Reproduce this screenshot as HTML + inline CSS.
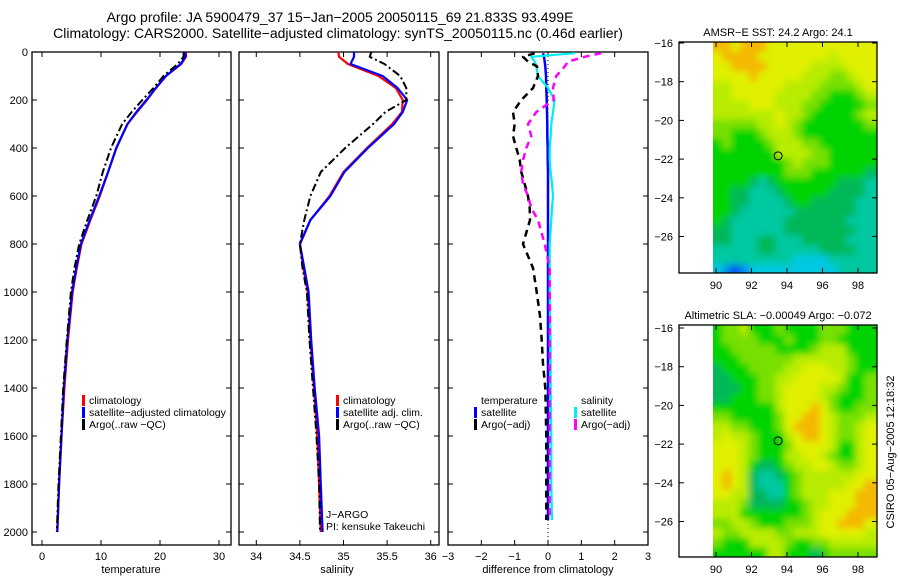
<!DOCTYPE html>
<html><head><meta charset="utf-8"><style>
body{margin:0;background:#fff;width:900px;height:580px;overflow:hidden}
svg text{font-family:"Liberation Sans",sans-serif;fill:#000}
</style></head><body>
<svg id="fig" width="900" height="580" xmlns="http://www.w3.org/2000/svg">
<defs>
<filter id="soft" x="0" y="0" width="1" height="1"><feGaussianBlur stdDeviation="3.5" edgeMode="duplicate"/></filter>
<clipPath id="clip1"><rect x="713" y="42" width="164" height="231"/></clipPath>
<clipPath id="clip2"><rect x="713" y="325" width="164" height="232"/></clipPath>
</defs>
<text x="340" y="22" font-size="14" text-anchor="middle">Argo profile: JA 5900479_37 15−Jan−2005 20050115_69 21.833S 93.499E</text>
<text x="338" y="38" font-size="14" text-anchor="middle">Climatology: CARS2000. Satellite−adjusted climatology: synTS_20050115.nc (0.46d earlier)</text>
<text transform="translate(894,452) rotate(-90)" font-size="11" text-anchor="middle">CSIRO 05−Aug−2005 12:18:32</text>
</svg>
<script>
// ---------- data ----------
const depths=[0,20,50,100,150,200,250,300,400,500,600,700,800,900,1000,1200,1400,1600,1800,2000];
const tempClim=[24.4,24.4,23.6,21.0,19.3,17.8,16.1,14.5,12.6,11.2,9.8,8.2,6.7,5.9,5.2,4.4,3.8,3.3,2.9,2.6];
const tempSat=[24.3,24.3,23.5,21.0,19.3,17.7,16.0,14.5,12.6,11.2,9.7,8.1,6.6,5.8,5.1,4.3,3.7,3.3,2.9,2.6];
const tempArgo=[24.0,24.0,23.0,20.6,18.9,17.0,15.2,13.6,11.7,10.3,9.2,7.7,6.3,5.5,4.9,4.2,3.6,3.2,2.8,2.5];
const salClim=[34.94,34.95,35.05,35.40,35.60,35.68,35.67,35.56,35.27,35.00,34.84,34.62,34.50,34.54,34.59,34.62,34.66,34.70,34.72,34.74];
const salSat=[35.12,35.12,35.08,35.45,35.62,35.73,35.68,35.58,35.28,35.01,34.85,34.62,34.50,34.55,34.60,34.63,34.67,34.72,34.74,34.76];
const salArgo=[35.32,35.30,35.47,35.65,35.72,35.72,35.48,35.34,35.02,34.74,34.62,34.55,34.50,34.53,34.58,34.61,34.65,34.69,34.72,34.73];
const diffDepths=[5,20,40,60,100,150,200,250,300,350,400,450,500,550,600,650,700,800,900,1000,1100,1200,1300,1400,1600,1800,1950];
const dTempSat=[-0.15,-0.12,-0.1,-0.08,-0.06,-0.05,-0.04,-0.03,-0.02,-0.02,-0.01,-0.01,0,0,0,0,0,0,0,0,0,0,0,0,0,0,0];
const dTempArgo=[-0.4,-0.75,-0.6,-0.33,-0.3,-0.45,-0.8,-1.05,-1.0,-1.05,-0.95,-0.85,-0.8,-0.7,-0.6,-0.55,-0.54,-0.75,-0.45,-0.34,-0.24,-0.19,-0.15,-0.08,-0.05,-0.05,-0.05];
const dSalSat=[0.8,-0.5,-0.4,-0.35,-0.3,0.0,0.2,0.15,0.1,0.08,0.05,0.05,0.08,0.12,0.15,0.12,0.1,0.05,0.05,0.05,0.06,0.08,0.08,0.08,0.1,0.1,0.12];
const dSalArgo=[1.6,1.1,0.6,0.5,0.25,0.15,0.17,-0.35,-0.6,-0.5,-0.65,-0.75,-0.8,-0.75,-0.6,-0.5,-0.3,-0.1,0.05,0.05,0.06,0.05,0.05,0.05,0.05,0.05,0.05];
const depthTicks=[0,200,400,600,800,1000,1200,1400,1600,1800,2000];
const tempTicks=[0,10,20,30];
const salTicks=[34,34.5,35,35.5,36];
const diffTicks=[-3,-2,-1,0,1,2,3];
const latTicks=[-16,-18,-20,-22,-24,-26];
const lonTicks=[90,92,94,96,98];
const sstGrid=[
"998999888888888888","899998888888878888","889999888887777888","888898888877766788",
"778888887777666678","778888877776655567","777788877766555556","777777787765555567",
"666667787655555556","665556777655555555","565555677766555555","555555577776655555",
"555555556766655555","555555556665555554","555543455555554443","554433345555544443",
"554433334554444433","554333333444444433","543333334444444333","443333334444444433",
"443334433344444333","333334433333444433","333333333222233333","210122222222223333"];
const slaGrid=[
"566755565555666555","566665556555665555","556666655556777555","555666666777777655",
"455566667788877655","445556677888887556","444556678888776556","445556678888765556",
"555555578889865566","665555568899876667","776655568999876678","787765557899876678",
"888765556888875578","888765557788765578","888754456778876678","898743345677777788",
"898743335677777889","887744335677788899","777644445567788899","777555555567888999",
"667765556667889998","766777766777888887","655577776556677777","555555775554566666"];
const palette=["#0050f0","#0090f0","#00c8e0","#00c8a0","#00b858","#00d400","#78e000","#b8ec00","#e0f000","#f4b800"];
const argoLon=93.499, argoLat=-21.833;

// ---------- helpers ----------
const svg=document.getElementById('fig');
const NS="http://www.w3.org/2000/svg";
function mk(tag,attrs,parent){const e=document.createElementNS(NS,tag);for(const k in attrs)e.setAttribute(k,attrs[k]);(parent||svg).appendChild(e);return e;}
function lin(d0,d1,r0,r1){return v=>r0+(v-d0)*(r1-r0)/(d1-d0);}
const yDepth=lin(0,2000,52,532);

function frame(x0,y0,x1,y1,name){
  const r=mk('rect',{x:x0,y:y0,width:x1-x0,height:y1-y0,fill:'none',stroke:'#000','stroke-width':1.3});
  
  
}
function xTicks(ticks,sx,y0,y1,labelY,fmt,name){
  ticks.forEach(t=>{const x=sx(t);
    mk('line',{x1:x,x2:x,y1:y1,y2:y1-5,stroke:'#000'});
    mk('line',{x1:x,x2:x,y1:y0,y2:y0+5,stroke:'#000'});
    const tx=mk('text',{x:x,y:labelY,'font-size':11,'text-anchor':'middle'});tx.textContent=fmt?fmt(t):String(t).replace('-','−');
    
    
  });
}
function yTicksFn(ticks,sy,x0,x1,labelX,name,leftLabels){
  ticks.forEach(t=>{const y=sy(t);
    mk('line',{x1:x0,x2:x0+5,y1:y,y2:y,stroke:'#000'});
    mk('line',{x1:x1,x2:x1-5,y1:y,y2:y,stroke:'#000'});
    if(leftLabels){const tx=mk('text',{x:labelX,y:y+4,'font-size':11,'text-anchor':'end'});tx.textContent=String(t).replace('-','−');
    
    }
  });
}
function series(xs,ys,sx,sy,color,w,dash,name){
  const pts=xs.map((v,i)=>sx(v).toFixed(1)+','+sy(ys[i]).toFixed(1)).join(' ');
  const p=mk('polyline',{points:pts,fill:'none',stroke:color,'stroke-width':w,'stroke-dasharray':dash||'none','stroke-linejoin':'round'});
  
  
}
function legend(x,y,items,name){
  items.forEach((it,i)=>{
    if(it.c){mk('rect',{x:x,y:y+i*12-9,width:3,height:11,fill:it.c});}
    const t=mk('text',{x:x+7,y:y+i*12,'font-size':10.5});t.textContent=it.t;
    
    
  });
}
function xlabel(x,y,s,name){const t=mk('text',{x:x,y:y,'font-size':11,'text-anchor':'middle'});t.textContent=s;
  
  }

// ---------- panel 1: temperature ----------
const sxT=lin(0,30,42,219);
frame(32,52,231,545,'temperature-axes');
yTicksFn(depthTicks,yDepth,32,231,28,'depth',true);
xTicks(tempTicks,sxT,52,545,560,null,'temperature');
series(tempClim,depths,sxT,yDepth,'#f00',2.2,null,'temperature-climatology-line');
series(tempSat,depths,sxT,yDepth,'#00f',2.2,null,'temperature-satellite-line');
series(tempArgo,depths,sxT,yDepth,'#000',2,'8,3,2,3','temperature-argo-line');
legend(82,404,[{c:'#f00',t:'climatology'},{c:'#00f',t:'satellite−adjusted climatology'},{c:'#000',t:'Argo(..raw −QC)'}],'temperature-legend');
xlabel(131,573,'temperature','temperature-axis-title');

// ---------- panel 2: salinity ----------
const sxS=lin(34,36,256.3,430.7);
frame(239,52,439,545,'salinity-axes');
yTicksFn(depthTicks,yDepth,239,439,0,'depth',false);
xTicks(salTicks,sxS,52,545,560,null,'salinity');
series(salClim,depths,sxS,yDepth,'#f00',2.2,null,'salinity-climatology-line');
series(salSat,depths,sxS,yDepth,'#00f',2.2,null,'salinity-satellite-line');
series(salArgo,depths,sxS,yDepth,'#000',2,'8,3,2,3','salinity-argo-line');
legend(336,404,[{c:'#f00',t:'climatology'},{c:'#00f',t:'satellite adj. clim.'},{c:'#000',t:'Argo(..raw −QC)'}],'salinity-legend');
legend(319,518,[{t:'J−ARGO'},{t:'PI: kensuke Takeuchi'}],'float-info');
xlabel(337,573,'salinity','salinity-axis-title');

// ---------- panel 3: differences ----------
const sxD=lin(-3,3,448,648);
frame(448,52,648,545,'difference-axes');
yTicksFn(depthTicks,yDepth,448,648,0,'depth',false);
xTicks(diffTicks,sxD,52,545,560,null,'difference');
mk('line',{x1:sxD(0),x2:sxD(0),y1:52,y2:545,stroke:'#000','stroke-dasharray':'1,3'});
series(dTempSat,diffDepths,sxD,yDepth,'#00f',2.5,null,'temperature-satellite-diff-line');
series(dSalSat,diffDepths,sxD,yDepth,'#0ee',2.2,null,'salinity-satellite-diff-line');
series(dTempArgo,diffDepths,sxD,yDepth,'#000',2.5,'7,5','temperature-argo-diff-line');
series(dSalArgo,diffDepths,sxD,yDepth,'#f0f',2.5,'7,5','salinity-argo-diff-line');
legend(474,404,[{t:'temperature'},{c:'#00f',t:'satellite'},{c:'#000',t:'Argo(−adj)'}],'diff-temperature-legend');
legend(574,404,[{t:'salinity'},{c:'#0ee',t:'satellite'},{c:'#f0f',t:'Argo(−adj)'}],'diff-salinity-legend');
xlabel(548,573,'difference from climatology','difference-axis-title');

// ---------- maps ----------
function drawMap(grid,y0,y1,latTop,title,name,clipId){
  const sx=lin(90,98,716,858);
  const sy=lin(-16,-26,latTop,latTop+193.5);
  const outer=mk('g',{'clip-path':'url(#'+clipId+')'});
  const g=mk('g',{filter:'url(#soft)'},outer);
  
  
  grid.forEach((row,r)=>{
    for(let c=0;c<row.length;c++){
      const lon=90+c*0.5-0.15, lat=-16+(latTop===43?0.05:0.15)-r*0.5;
      let x=sx(lon), y=sy(lat);
      let w=sx(lon+0.5)-x+0.6, h=sy(lat-0.5)-y+0.6;
      if(c===0){w+=x-705;x=705;}
      if(c===row.length-1){w=885-x;}
      if(r===0){h+=y-(y0-8);y=y0-8;}
      if(r===grid.length-1){h=y1+8-y;}
      const cell=mk('rect',{x:x,y:y,width:w,height:h,fill:palette[+row[c]]},g);
      
      
    }
  });
  frame(679,y0,877,y1,name+'-axes');
  latTicks.forEach(t=>{const y=sy(t);
    mk('line',{x1:679,x2:684,y1:y,y2:y,stroke:'#000'});mk('line',{x1:877,x2:872,y1:y,y2:y,stroke:'#000'});
    const tx=mk('text',{x:673,y:y+4,'font-size':11,'text-anchor':'end'});tx.textContent=String(t).replace('-','−');
    
    });
  lonTicks.forEach(t=>{const x=sx(t);
    mk('line',{x1:x,x2:x,y1:y1,y2:y1-5,stroke:'#000'});mk('line',{x1:x,x2:x,y1:y0,y2:y0+5,stroke:'#000'});
    const tx=mk('text',{x:x,y:y1+16,'font-size':11,'text-anchor':'middle'});tx.textContent=t;
    
    });
  const c=mk('circle',{cx:sx(argoLon),cy:sy(argoLat),r:4,fill:'none',stroke:'#000','stroke-width':1});
  
  
  const t=mk('text',{x:778,y:y0-6,'font-size':11,'text-anchor':'middle'});t.textContent=title;
  
  
}
drawMap(sstGrid,42,273,43,'AMSR−E SST: 24.2 Argo: 24.1','sst-map','clip1');
drawMap(slaGrid,325,557,328,'Altimetric SLA: −0.00049 Argo: −0.072','sla-map','clip2');
</script>
</body></html>
